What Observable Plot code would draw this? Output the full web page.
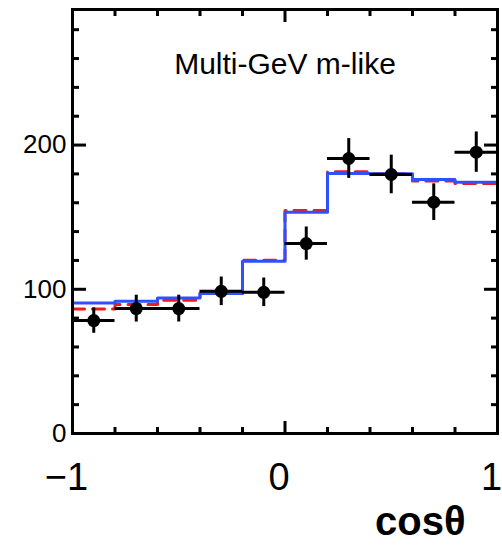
<!DOCTYPE html>
<html><head><meta charset="utf-8">
<script src="https://cdn.jsdelivr.net/npm/d3@7"></script>
<script src="https://cdn.jsdelivr.net/npm/@observablehq/plot@0.6"></script>
<style>html,body{margin:0;padding:0;background:#fff}</style>
</head><body><div id="chart"></div>
<script>
// ---- data ----
const binEdges   = [-1, -0.8, -0.6, -0.4, -0.2, 0, 0.2, 0.4, 0.6, 0.8, 1];
const binCenters = [-0.9, -0.7, -0.5, -0.3, -0.1, 0.1, 0.3, 0.5, 0.7, 0.9];
const dataCounts = [78.3, 86.6, 86.6, 98.6, 97.9, 131.7, 190.7, 179.6, 160.4, 195.1];
const dataErrors = [8.8, 9.3, 9.3, 9.9, 9.9, 11.5, 13.8, 13.4, 12.7, 14.0];
const mcBlue     = [90.5, 91.7, 94.0, 97.0, 119.4, 153.5, 180.3, 180.1, 176.2, 174.3];
const mcRed      = [86.3, 89.4, 92.4, 97.2, 120.1, 154.6, 181.5, 180.1, 175.0, 173.4];
const titleText  = "Multi-GeV m-like";
const xLabelText = "cosθ";
const xMajorTicks = [-1, 0, 1];
const xTickLabels = ["−1", "0", "1"];
const xMinorTicks = [-0.8, -0.6, -0.4, -0.2, 0.2, 0.4, 0.6, 0.8];
const yMajorTicks = [0, 100, 200];
const yMinorTicks = [20, 40, 60, 80, 120, 140, 160, 180, 220, 240, 260, 280];
const yMax = 294;

// ---- derived tables ----
const stepOf = arr => binEdges.map((e, i) => ({x: e, y: arr[Math.min(i, arr.length - 1)]}));
const points = binCenters.map((c, i) => ({
  c, lo: binEdges[i], hi: binEdges[i + 1],
  v: dataCounts[i], ylo: dataCounts[i] - dataErrors[i], yhi: dataCounts[i] + dataErrors[i]
}));

const blank = () => "";
const tickMarks = [];
for (const anchor of ["bottom", "top"]) {
  tickMarks.push(Plot.axisX(xMajorTicks, {anchor, tickSize: -12, strokeWidth: 3, tickFormat: blank, label: null}));
  tickMarks.push(Plot.axisX(xMinorTicks, {anchor, tickSize: -6, strokeWidth: 3, tickFormat: blank, label: null}));
}
for (const anchor of ["left", "right"]) {
  tickMarks.push(Plot.axisY(yMajorTicks, {anchor, tickSize: -14, strokeWidth: 3, tickFormat: blank, label: null}));
  tickMarks.push(Plot.axisY(yMinorTicks, {anchor, tickSize: -7, strokeWidth: 3, tickFormat: blank, label: null}));
}

const chart = Plot.plot({
  width: 502,
  height: 549,
  marginLeft: 72,
  marginRight: 5,
  marginTop: 9,
  marginBottom: 116,
  style: {fontFamily: "'Liberation Sans', Arial, sans-serif", color: "black", background: "white", overflow: "visible"},
  x: {domain: [-1, 1]},
  y: {domain: [0, yMax]},
  marks: [
    Plot.line(stepOf(mcRed), {x: "x", y: "y", curve: "step-after", stroke: "#f01a1a", strokeWidth: 3, strokeDasharray: "12,8"}),
    Plot.line(stepOf(mcBlue), {x: "x", y: "y", curve: "step-after", stroke: "#3050ff", strokeWidth: 3}),
    Plot.ruleY(points, {y: "v", x1: "lo", x2: "hi", stroke: "black", strokeWidth: 3}),
    Plot.ruleX(points, {x: "c", y1: "ylo", y2: "yhi", stroke: "black", strokeWidth: 3}),
    Plot.dot(points, {x: "c", y: "v", r: 6.5, fill: "black", stroke: null}),
    ...tickMarks,
    Plot.axisX(xMajorTicks, {anchor: "bottom", tickSize: 0, tickPadding: 30, fontSize: 38, dx: -6, label: null,
      tickFormat: d => xTickLabels[xMajorTicks.indexOf(d)]}),
    Plot.axisY(yMajorTicks, {anchor: "left", tickSize: 0, tickPadding: 6, fontSize: 26, label: null}),
    Plot.frame({strokeWidth: 3, stroke: "black"}),
    Plot.text([titleText], {text: d => d, frameAnchor: "top", dy: 43, fontSize: 30, fill: "black"}),
    Plot.text([xLabelText], {text: d => d, frameAnchor: "bottom-right", dx: -32, dy: 101, fontSize: 40, fontWeight: "bold", textAnchor: "end", fill: "black"})
  ]
});
document.getElementById("chart").appendChild(chart);
</script>
</body></html>
